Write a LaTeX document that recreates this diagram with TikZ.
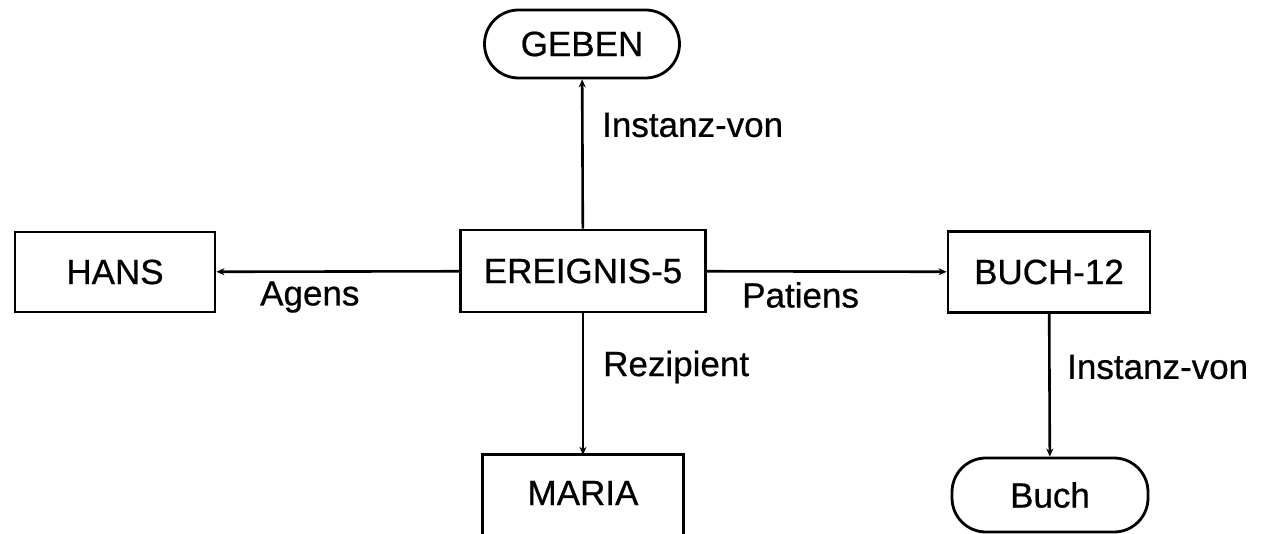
\documentclass[tikz,border=0pt]{standalone}
\usepackage{fontspec}
\setmainfont{Liberation Sans}[FakeBold=0.6]
\usetikzlibrary{arrows.meta}
\begin{document}
\begin{tikzpicture}[x=1pt,y=-1pt,
  every node/.style={font=\fontsize{35}{40}\selectfont, inner sep=0pt},
  concept/.style={draw, line width=2.8pt, rounded corners=34pt, align=center},
  instbox/.style={draw, line width=2.8pt, align=center},
  rel/.style={line width=2.6pt, -{Stealth[length=8pt,width=7pt]}},
  lbl/.style={}]
\useasboundingbox (0,0) rectangle (1263,534);
\clip (0,0) rectangle (1263,534);

% concepts and instances
\node[concept, minimum width=195pt, minimum height=68pt] (geben) at (582,44) {GEBEN};
\node[instbox, minimum width=200pt, minimum height=80pt] (hans) at (115,272) {HANS};
\node[instbox, minimum width=245pt, minimum height=82pt] (ereignis) at (583,271) {EREIGNIS-5};
\node[instbox, minimum width=202pt, minimum height=81pt] (buch12) at (1049,272) {BUCH-12};
\node[concept, minimum width=196pt, minimum height=74pt] (buch) at (1050,495) {Buch};
\node[minimum width=201pt, minimum height=76pt] (maria) at (583,493) {MARIA};
\draw[line width=2.8pt] ([yshift=-12pt]maria.south west) |- (maria.north east) -- ([yshift=-12pt]maria.south east);

% relations
\draw[rel] (ereignis) -- (geben);
\draw[rel] (ereignis) -- (hans);
\draw[rel] (ereignis) -- (buch12);
\draw[rel] (ereignis) -- (maria.north);
\draw[rel] (buch12) -- (buch);

% relation labels
\node[lbl, anchor=west] (l1) at (602,125) {Instanz-von};
\node[lbl, anchor=west] (l2) at (260,297) {Agens};
\node[lbl, anchor=west] (l3) at (742,295) {Patiens};
\node[lbl, anchor=west] (l4) at (603,367) {Rezipient};
\node[lbl, anchor=west] (l5) at (1067,367) {Instanz-von};
\end{tikzpicture}
\end{document}
